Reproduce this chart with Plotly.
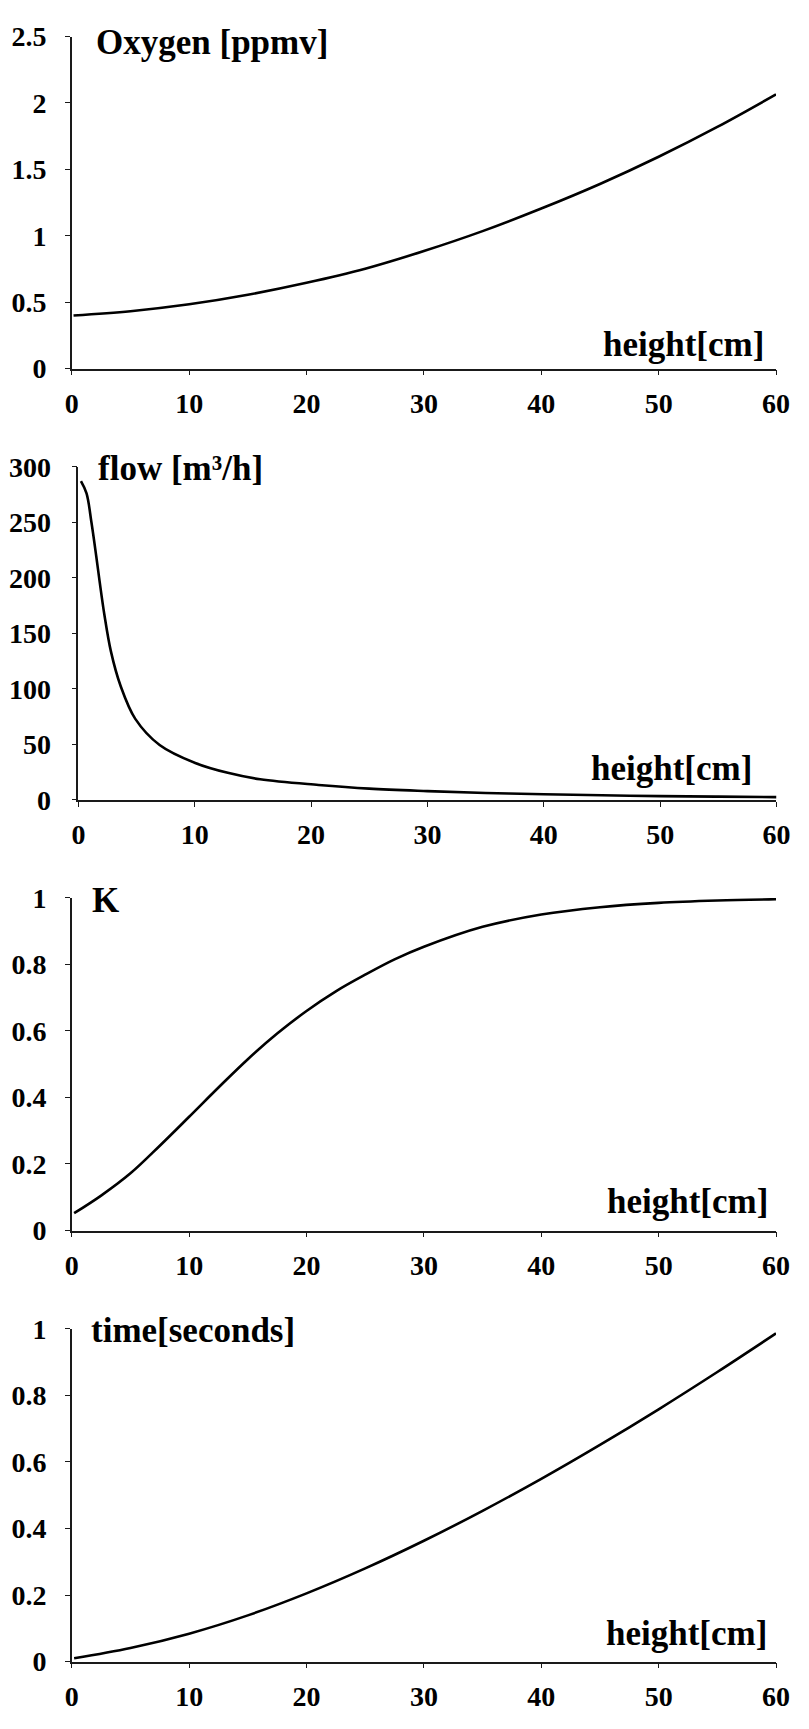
import plotly.graph_objects as go

# ---- data -------------------------------------------------------------
oxygen_h = [0.15, 5, 10, 15, 20, 25, 30, 35, 40, 45, 50, 55, 60]
oxygen_ppmv = [0.40, 0.432, 0.484, 0.556, 0.646, 0.752, 0.885, 1.035, 1.205, 1.39, 1.595, 1.82, 2.065]

flow_h = [0.22, 0.7, 1.12, 1.54, 1.82, 2.23, 2.79, 3.63, 4.89, 6.98, 10.04, 12.84,
          15.62, 20.64, 25, 30, 35, 40, 45, 50, 55, 60]
flow_m3h = [287, 276, 250, 219, 197, 167, 134, 102.6, 73, 49.5, 33.3, 24.4,
            18.6, 13.5, 10.2, 8, 6.3, 5.1, 4.2, 3.5, 3.0, 2.6]

k_h = [0.2, 2.5, 5, 7.5, 10, 12.5, 15, 17.5, 20, 22.5, 25, 27.5, 30, 35, 40, 45, 50, 55, 60]
k_val = [0.052, 0.105, 0.172, 0.255, 0.342, 0.43, 0.515, 0.592, 0.66, 0.719, 0.769,
         0.815, 0.853, 0.913, 0.95, 0.972, 0.985, 0.992, 0.996]

time_h = [0.2, 5, 10, 15, 20, 25, 30, 35, 40, 45, 50, 55, 60]
time_s = [0.01, 0.041, 0.084, 0.139, 0.205, 0.28, 0.363, 0.453, 0.549, 0.651, 0.758, 0.87, 0.986]

titles = ["Oxygen [ppmv]", "flow [m³/h]", "K", "time[seconds]"]
x_label = "height[cm]"
y_ranges = [[0, 2.5], [0, 300], [0, 1], [0, 1]]
y_dticks = [0.5, 50, 0.2, 0.2]

# ---- page geometry (pixels) -------------------------------------------
W, H = 809, 1729
FONT = "Liberation Serif, Times New Roman, serif"

# (left, right, top, bottom) of each plot area
boxes = [
    (66.5, 789.5, 22, 360),
    (73.3, 790, 460, 799.3),
    (66.5, 789.5, 899, 1237.7),
    (66.5, 789.5, 1337.7, 1676.7),
]
y_label_gap = [13, 15, 13, 13]
# title anchor (left x, baseline y) and axis name anchor (right x, baseline y)
title_pos = [(89, 39), (91, 473), (85, 913), (84, 1351)]
xname_pos = [(779, 347), (767, 778), (783, 1219), (782, 1659)]


def px_x(x):
    return x / W


def px_y(y):
    return 1 - y / H


series = [
    (oxygen_h, oxygen_ppmv),
    (flow_h, flow_m3h),
    (k_h, k_val),
    (time_h, time_s),
]

fig = go.Figure()
layout = dict(
    width=W,
    height=H,
    margin=dict(l=0, r=0, t=0, b=0),
    paper_bgcolor="white",
    plot_bgcolor="white",
    showlegend=False,
    font=dict(family=FONT, color="black"),
)
annotations = []
label_font = dict(family=FONT, size=35, color="black", weight="bold")

for i, ((xs, ys), box) in enumerate(zip(series, boxes)):
    n = "" if i == 0 else str(i + 1)
    xa, ya = "x" + n, "y" + n
    fig.add_trace(
        go.Scatter(
            x=xs, y=ys, xaxis=xa, yaxis=ya, mode="lines",
            line=dict(color="black", width=2.6, shape="spline", smoothing=1.0),
            hoverinfo="skip",
        )
    )
    l, r, t, b = box
    axis_common = dict(
        showgrid=False, zeroline=False, showline=True, linecolor="#1a1a1a",
        linewidth=1.5, ticks="outside", ticklen=5, tickwidth=1.3,
        tickcolor="#1a1a1a",
        tickfont=dict(family=FONT, size=28, color="black", weight="bold"),
    )
    layout["xaxis" + n] = dict(
        axis_common, domain=[px_x(l), px_x(r)], range=[0, 60], dtick=10,
        tick0=0, anchor=ya, ticklabelstandoff=4,
    )
    layout["yaxis" + n] = dict(
        axis_common, domain=[px_y(b), px_y(t)], range=y_ranges[i],
        dtick=y_dticks[i], tick0=0, anchor=xa,
        ticklabelstandoff=y_label_gap[i],
    )
    tx, ty = title_pos[i]
    annotations.append(dict(
        text=titles[i], xref="paper", yref="paper", x=px_x(tx),
        y=px_y(ty - 11), xanchor="left", yanchor="middle", showarrow=False,
        font=label_font,
    ))
    hx, hy = xname_pos[i]
    annotations.append(dict(
        text=x_label, xref="paper", yref="paper", x=px_x(hx),
        y=px_y(hy - 11), xanchor="right", yanchor="middle", showarrow=False,
        font=label_font,
    ))

layout["annotations"] = annotations
fig.update_layout(**layout)
fig.write_html("out.html")
